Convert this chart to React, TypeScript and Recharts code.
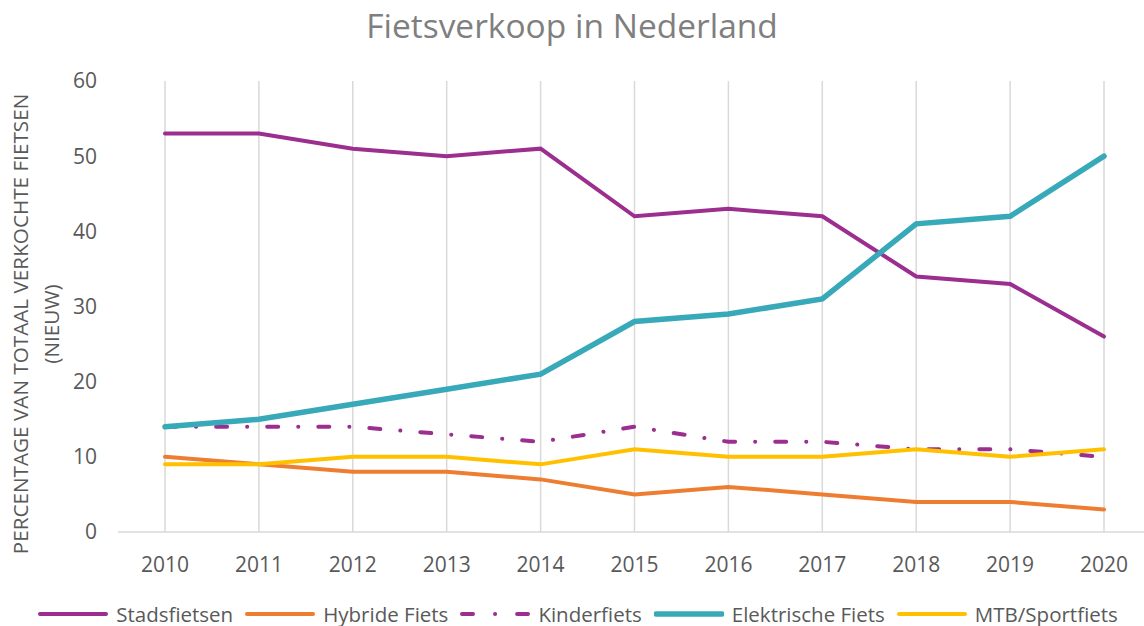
import { LineChart, Line, XAxis, YAxis, ReferenceLine } from 'recharts';

const years = ['2010', '2011', '2012', '2013', '2014', '2015', '2016', '2017', '2018', '2019', '2020'];
const stadsfietsen = [53, 53, 51, 50, 51, 42, 43, 42, 34, 33, 26];
const hybride = [10, 9, 8, 8, 7, 5, 6, 5, 4, 4, 3];
const kinderfiets = [14, 14, 14, 13, 12, 14, 12, 12, 11, 11, 10];
const elektrisch = [14, 15, 17, 19, 21, 28, 29, 31, 41, 42, 50];
const mtb = [9, 9, 10, 10, 9, 11, 10, 10, 11, 10, 11];
const yTicks = [0, 10, 20, 30, 40, 50, 60];

const FONT = '"Open Sans", sans-serif';
const TEXT = '#595959';

const series = [
  { key: 'Stadsfietsen', color: '#9B2E8F', width: 4, dash: undefined as string | undefined },
  { key: 'Hybride Fiets', color: '#ED7D31', width: 4, dash: undefined },
  { key: 'Kinderfiets', color: '#9B2E8F', width: 4, dash: '11 20 0.1 20' },
  { key: 'Elektrische Fiets', color: '#38A9B8', width: 5.5, dash: undefined },
  { key: 'MTB/Sportfiets', color: '#FFC000', width: 4, dash: undefined },
];

const data = years.map((y, i) => ({
  year: y,
  'Stadsfietsen': stadsfietsen[i],
  'Hybride Fiets': hybride[i],
  'Kinderfiets': kinderfiets[i],
  'Elektrische Fiets': elektrisch[i],
  'MTB/Sportfiets': mtb[i],
}));

export default function App() {
  return (
    <div style={{ position: 'absolute', left: 0, top: 0, width: 1144, height: 626, background: '#fff', fontFamily: FONT, overflow: 'hidden' }}>
      <div style={{ position: 'absolute', left: 0, top: 2, width: 1144, textAlign: 'center', fontSize: 33.5, color: '#7F7F7F' }}>
        Fietsverkoop in Nederland
      </div>
      {/* y-as titel, twee regels, gedraaid */}
      <div
        style={{
          position: 'absolute', left: 36, top: 324, width: 540,
          transform: 'translate(-50%, -50%) rotate(-90deg)',
          textAlign: 'center', fontSize: 20.7, lineHeight: '31px', color: TEXT,
        }}
      >
        PERCENTAGE VAN TOTAAL VERKOCHTE FIETSEN<br />(NIEUW)
      </div>
      <LineChart width={1144} height={626} data={data} margin={{ top: 81, right: 0, bottom: 54, left: 0 }}>
        <XAxis
          dataKey="year"
          padding={{ left: 47, right: 40 }}
          height={40}
          tickLine={false}
          tickSize={0}
          tickMargin={25}
          axisLine={{ stroke: '#D9D9D9', strokeWidth: 1.5 }}
          tick={{ fill: TEXT, fontSize: 21, fontFamily: FONT }}
        />
        <YAxis
          width={118}
          domain={[0, 60]}
          ticks={yTicks}
          axisLine={false}
          tickLine={false}
          tickSize={0}
          tickMargin={21}
          tick={{ fill: TEXT, fontSize: 21, fontFamily: FONT }}
        />
        {/* verticale rasterlijnen alleen op de jaartallen */}
        {years.map((y) => (
          <ReferenceLine key={y} x={y} stroke="#D9D9D9" strokeWidth={1.5} />
        ))}
        {series.map((s) => (
          <Line
            key={s.key}
            dataKey={s.key}
            type="linear"
            stroke={s.color}
            strokeWidth={s.width}
            strokeDasharray={s.dash}
            strokeLinecap="round"
            dot={false}
            activeDot={false}
            isAnimationActive={false}
          />
        ))}
      </LineChart>
      <div
        style={{
          position: 'absolute', left: 0, top: 604, width: 1156, display: 'flex', justifyContent: 'center',
          alignItems: 'center', gap: 12, fontSize: 20.5, lineHeight: '20px', color: TEXT,
        }}
      >
        {series.map((s) => (
          <div key={s.key} style={{ display: 'flex', alignItems: 'center', gap: 8, whiteSpace: 'nowrap' }}>
            <svg width={70} height={10}>
              <line
                x1={2} y1={5} x2={68} y2={5}
                stroke={s.color}
                strokeWidth={s.width}
                strokeLinecap="round"
                strokeDasharray={s.dash ? '11 22 0.1 22' : undefined}
              />
            </svg>
            <span>{s.key}</span>
          </div>
        ))}
      </div>
    </div>
  );
}
